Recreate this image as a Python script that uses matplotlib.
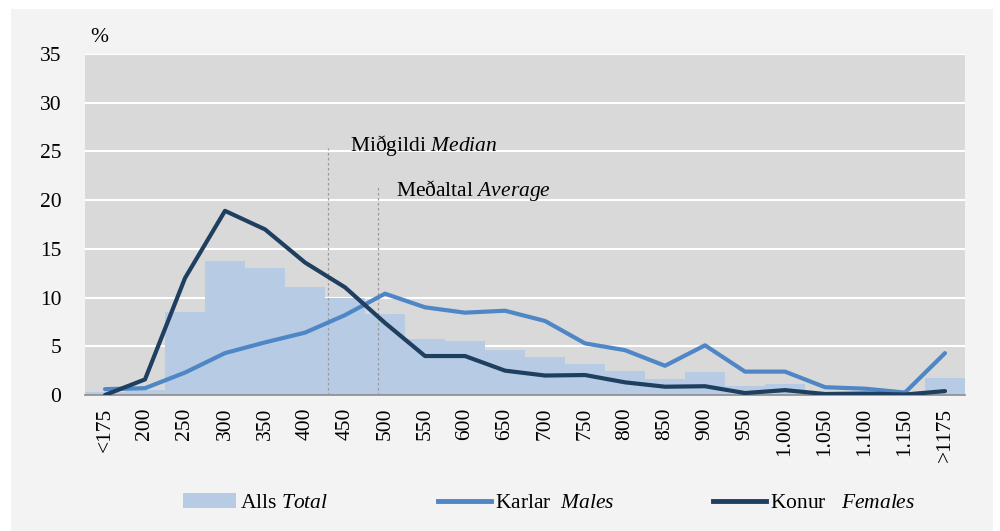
import numpy as np
import matplotlib
matplotlib.use("Agg")
import matplotlib.pyplot as plt
from matplotlib.patches import Rectangle, Patch
from matplotlib.lines import Line2D

plt.rcParams['font.family'] = ['Liberation Serif', 'DejaVu Serif']
plt.rcParams['mathtext.fontset'] = 'custom'
plt.rcParams['mathtext.rm'] = 'Liberation Serif'
plt.rcParams['mathtext.it'] = 'Liberation Serif:italic'

categories = ['<175', '200', '250', '300', '350', '400', '450', '500', '550', '600', '650',
              '700', '750', '800', '850', '900', '950', '1.000', '1.050', '1.100', '1.150', '>1175']
total = [0.3, 0.5, 8.5, 13.8, 13.0, 11.05, 10.0, 8.3, 5.7, 5.5, 4.65,
         3.9, 3.2, 2.5, 1.6, 2.4, 0.9, 1.1, 0.3, 0.2, 0.1, 1.75]
males = [0.6, 0.7, 2.3, 4.3, 5.4, 6.4, 8.2, 10.4, 9.0, 8.45, 8.65,
         7.6, 5.3, 4.6, 3.0, 5.1, 2.4, 2.4, 0.8, 0.65, 0.25, 4.3]
females = [0.0, 1.6, 12.0, 18.9, 17.0, 13.6, 11.05, 7.4, 4.0, 4.0, 2.5,
           2.0, 2.05, 1.3, 0.85, 0.9, 0.2, 0.5, 0.1, 0.15, 0.05, 0.4]
median_pos, median_top = 5.57, 25.4
average_pos, average_top = 6.83, 21.4

c_total = '#b7cce4'
c_males = '#4f86c6'
c_females = '#1f3f60'
fs = 15.5

fig = plt.figure(figsize=(10, 5.31), dpi=100, facecolor='white')
fig.patches.append(Rectangle((0.011, 0), 0.982, 1 - 9 / 531, transform=fig.transFigure,
                             facecolor='#f2f3f2', edgecolor='none', zorder=-10))
ax = fig.add_axes([0.085, 1 - 395 / 531, 0.88, (395 - 54) / 531])
ax.set_facecolor('#d9d9d9')

x = np.arange(len(categories))
ax.bar(x, total, width=1.0, color=c_total, zorder=2)
ax.plot(x, males, color=c_males, lw=3, solid_capstyle='round', solid_joinstyle='round', zorder=4)
ax.plot(x, females, color=c_females, lw=3, solid_capstyle='round', solid_joinstyle='round', zorder=5)

ax.plot([median_pos, median_pos], [0, median_top], ls=(0, (2, 2)), color='#9a9a9a', lw=0.9, zorder=3)
ax.plot([average_pos, average_pos], [0, average_top], ls=(0, (2, 2)), color='#9a9a9a', lw=0.9, zorder=3)
ax.text(median_pos + 0.55, 25.6, r'Miðgildi $\it{Median}$', fontsize=fs, va='center', ha='left')
ax.text(average_pos + 0.45, 21.0, r'Meðaltal $\it{Average}$', fontsize=fs, va='center', ha='left')

ax.set_xlim(-0.5, len(categories) - 0.5)
ax.set_ylim(0, 35)
ax.set_yticks(range(0, 36, 5))
ax.yaxis.grid(True, color='white', lw=1.5, zorder=1)
ax.set_axisbelow(True)
ax.set_xticks(x)
ax.set_xticklabels(categories, rotation=90, fontsize=fs)
ax.tick_params(axis='y', labelsize=fs, length=0, pad=17)
ax.tick_params(axis='x', length=0, pad=9)
for s in ['top', 'right', 'left']:
    ax.spines[s].set_visible(False)
ax.spines['bottom'].set_color('#8c8c8c')
ax.spines['bottom'].set_linewidth(1.2)

fig.text(0.099, 1 - 37 / 531, '%', fontsize=fs, ha='center', va='center')

# legend: three separate entries, spread like the original
entries = [
    (Patch(facecolor=c_total, edgecolor='none'), r'Alls $\it{Total}$', 0.183),
    (Line2D([0], [0], color=c_males, lw=3.5), r'Karlar  $\it{Males}$', 0.438),
    (Line2D([0], [0], color=c_females, lw=3.5), r'Konur   $\it{Females}$', 0.713),
]
for h, lab, xpos in entries:
    fig.legend([h], [lab], loc='center left', bbox_to_anchor=(xpos, 1 - 503 / 531),
               frameon=False, fontsize=fs, handlelength=2.45, handletextpad=0.2,
               borderpad=0, borderaxespad=0)

fig.savefig('out.png', dpi=100, facecolor=fig.get_facecolor())
